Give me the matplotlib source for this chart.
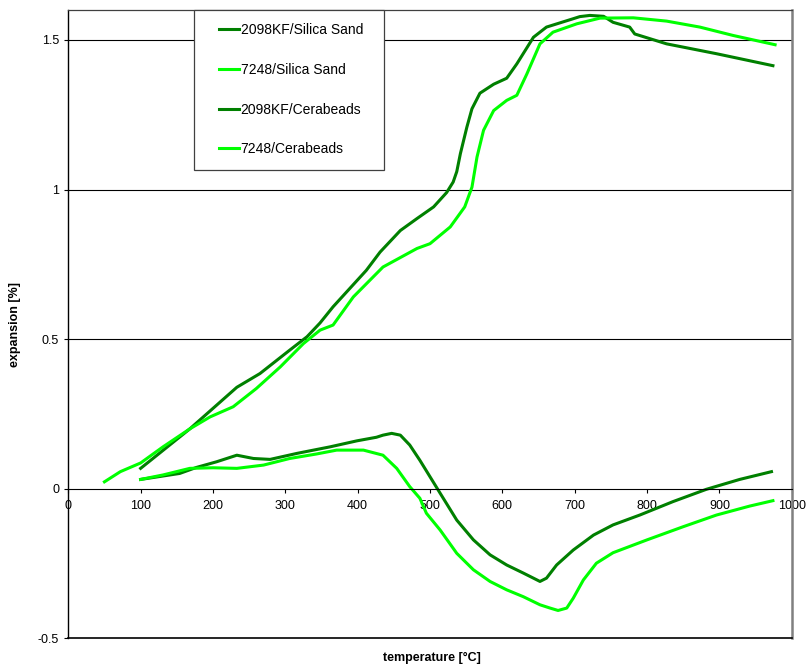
import matplotlib
matplotlib.use('Agg')
import matplotlib.pyplot as plt
from matplotlib.legend_handler import HandlerLine2D

plt.rcParams['font.family'] = ['Liberation Sans', 'DejaVu Sans']

# 2098KF / Silica Sand
t_kf_sand = [100, 168, 233, 265, 306, 330, 348, 366, 412, 431, 459, 482, 505, 523, 532,
             537, 542, 551, 558, 569, 588, 606, 620, 643, 661, 698, 707, 721, 740, 753,
             776, 783, 827, 896, 974]
e_kf_sand = [0.068, 0.20, 0.339, 0.385, 0.463, 0.508, 0.554, 0.608, 0.73, 0.791, 0.863,
             0.903, 0.942, 0.99, 1.025, 1.06, 1.12, 1.209, 1.27, 1.322, 1.352, 1.372,
             1.42, 1.509, 1.543, 1.571, 1.578, 1.582, 1.579, 1.559, 1.543, 1.52, 1.487,
             1.454, 1.414]

# 7248 / Silica Sand
t_72_sand = [50, 72, 100, 131, 168, 196, 228, 260, 293, 325, 348, 366, 394, 435, 482,
             500, 528, 548, 558, 565, 574, 588, 606, 620, 634, 652, 670, 703, 735, 781,
             827, 873, 919, 977]
e_72_sand = [0.023, 0.057, 0.086, 0.14, 0.20, 0.24, 0.274, 0.335, 0.407, 0.485, 0.53,
             0.547, 0.641, 0.741, 0.803, 0.819, 0.875, 0.942, 1.008, 1.109, 1.198, 1.264,
             1.298, 1.315, 1.387, 1.487, 1.526, 1.554, 1.573, 1.574, 1.563, 1.543, 1.515,
             1.484]

# 2098KF / Cerabeads
t_kf_cera = [100, 154, 177, 205, 233, 256, 279, 316, 362, 399, 426, 435, 447, 459, 472,
             486, 514, 537, 560, 583, 606, 629, 643, 652, 661, 675, 698, 726, 753, 790,
             836, 882, 928, 972]
e_kf_cera = [0.031, 0.051, 0.071, 0.090, 0.112, 0.101, 0.098, 0.118, 0.14, 0.16, 0.172,
             0.179, 0.185, 0.179, 0.146, 0.095, -0.015, -0.105, -0.171, -0.221, -0.255,
             -0.282, -0.299, -0.31, -0.299, -0.255, -0.205, -0.155, -0.121, -0.088,
             -0.043, -0.002, 0.031, 0.057]

# 7248 / Cerabeads
t_72_cera = [100, 131, 168, 200, 233, 270, 306, 343, 371, 408, 435, 454, 472, 486, 495,
             514, 537, 560, 583, 606, 629, 652, 666, 677, 689, 698, 712, 730, 753, 800,
             850, 896, 942, 974]
e_72_cera = [0.031, 0.046, 0.068, 0.07, 0.068, 0.079, 0.101, 0.116, 0.129, 0.129, 0.112,
             0.068, 0.007, -0.032, -0.082, -0.138, -0.216, -0.271, -0.31, -0.338, -0.361,
             -0.388, -0.399, -0.407, -0.399, -0.366, -0.305, -0.249, -0.214, -0.171,
             -0.127, -0.088, -0.058, -0.04]

dark = '#008000'
light = '#00FF00'

fig = plt.figure(figsize=(8.06, 6.69), dpi=100)
ax = fig.add_axes([0.0847, 0.0459, 0.8976, 0.9391])

lw = 2.2
ax.plot(t_kf_sand, e_kf_sand, color=dark, lw=lw, label='2098KF/Silica Sand')
ax.plot(t_72_sand, e_72_sand, color=light, lw=lw, label='7248/Silica Sand')
ax.plot(t_kf_cera, e_kf_cera, color=dark, lw=lw, label='2098KF/Cerabeads')
ax.plot(t_72_cera, e_72_cera, color=light, lw=lw, label='7248/Cerabeads')

ax.set_xlim(0, 1000)
ax.set_ylim(-0.5, 1.6)
ax.set_xticks(range(0, 1001, 100))
ax.set_yticks([-0.5, 0, 0.5, 1, 1.5])
ax.set_yticklabels(['-0.5', '0', '0.5', '1', '1.5'])

for yv in [0.5, 1, 1.5]:
    ax.axhline(yv, color='black', lw=0.8, zorder=0)
ax.axhline(-0.5, color='black', lw=1.2, clip_on=False, zorder=3)

ax.spines['bottom'].set_position(('data', 0))
ax.spines['bottom'].set_linewidth(0.8)
ax.spines['left'].set_linewidth(1.0)
ax.spines['top'].set_color('#404040')
ax.spines['top'].set_linewidth(0.9)
ax.spines['right'].set_color('#808080')
ax.spines['right'].set_linewidth(1.8)

ax.tick_params(axis='x', direction='out', length=3, width=0.8, pad=5, labelsize=9)
ax.tick_params(axis='y', direction='out', length=3, width=0.8, pad=3.5, labelsize=9)

fig.text(15 / 806, 1 - 324 / 669, 'expansion [%]', rotation=90, ha='center', va='center',
         fontsize=9, fontweight='bold')
fig.text(432 / 806, 1 - 658 / 669, 'temperature [°C]', ha='center', va='center',
         fontsize=9, fontweight='bold')

leg = ax.legend(loc='upper left', bbox_to_anchor=(0.1738, 1.0, 0.2626, 0.0), mode='expand',
                borderaxespad=0, fontsize=10, labelspacing=1.85, borderpad=0.95,
                handlelength=2.3, handletextpad=0.1, fancybox=False, framealpha=1,
                handler_map={plt.Line2D: HandlerLine2D(xpad=0.86)})
leg.get_frame().set_edgecolor('#404040')
leg.get_frame().set_linewidth(0.9)

fig.savefig('out.png', dpi=100)
